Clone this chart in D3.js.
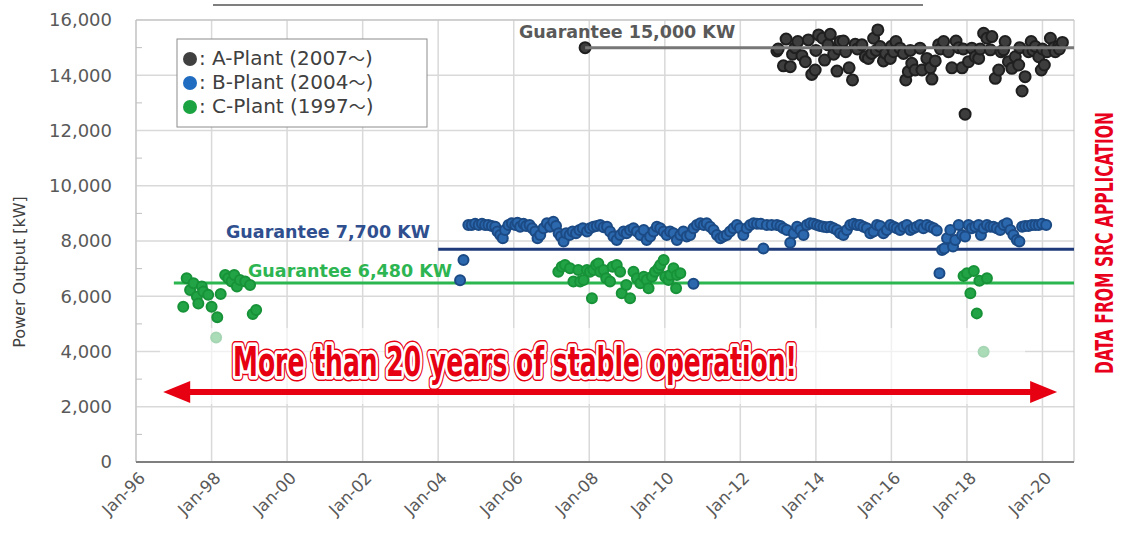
<!DOCTYPE html>
<html><head><meta charset="utf-8">
<script src="https://cdn.jsdelivr.net/npm/d3@7"></script>
<style>body{margin:0;background:#fff}svg{display:block}</style>
</head><body><svg id="c" width="1123" height="535"></svg>
<script>
// ---------------- DATA ----------------
const xTickLabels = ["Jan-96","Jan-98","Jan-00","Jan-02","Jan-04","Jan-06","Jan-08","Jan-10","Jan-12","Jan-14","Jan-16","Jan-18","Jan-20"];
const yTicks = [0,2000,4000,6000,8000,10000,12000,14000,16000];
const seriesNames = ["A-Plant","B-Plant","C-Plant"];
const seriesStarts = ["2007","2004","1997"];

// A-Plant (decimal year, kW)
const aDates = [2007.89,2012.97,2013.0,2013.14,2013.21,2013.32,2013.38,2013.45,2013.52,2013.63,2013.72,2013.80,2013.89,2013.98,2014.0,2014.07,2014.18,2014.23,2014.32,2014.38,2014.47,2014.56,2014.6,2014.64,2014.73,2014.79,2014.88,2014.97,2015.04,2015.1,2015.22,2015.31,2015.39,2015.48,2015.53,2015.6,2015.64,2015.70,2015.79,2015.85,2015.97,2016.0,2016.06,2016.12,2016.23,2016.32,2016.38,2016.45,2016.5,2016.54,2016.63,2016.76,2016.81,2016.94,2017.03,2017.07,2017.16,2017.25,2017.3,2017.38,2017.51,2017.60,2017.71,2017.78,2017.87,2017.9,2017.95,2018.04,2018.13,2018.22,2018.31,2018.35,2018.44,2018.53,2018.62,2018.66,2018.75,2018.84,2018.9,2018.97,2019.01,2019.10,2019.19,2019.28,2019.37,2019.4,2019.46,2019.54,2019.63,2019.70,2019.75,2019.81,2019.90,2019.97,2020.0,2020.05,2020.12,2020.21,2020.3,2020.34,2020.43,2020.45,2020.53];
const aValues = [15000,14880,14950,14340,15310,14310,14760,15000,15220,14710,14490,15280,14030,14190,14900,15460,15340,14550,15100,15480,14760,14150,14950,15220,15240,14850,14270,13830,15120,14950,15100,14670,14610,14790,15340,14900,15640,15040,14520,14790,14610,15050,14850,15220,14980,14790,13830,14130,14900,14430,14190,14980,14190,14610,14270,13860,14520,15100,14950,15220,14850,14270,15240,15000,14270,14950,12590,14490,14980,14670,14610,14950,15520,15340,14920,15400,13890,14190,14850,14920,15220,14490,14250,14670,14370,15000,13430,13950,14850,15220,14900,15040,14670,14190,14950,14370,14850,15340,15000,14850,15040,14950,15190];

// B-Plant
const bDates = [2004.58,2004.67,2004.80,2004.89,2004.98,2005.07,2005.16,2005.24,2005.33,2005.42,2005.51,2005.57,2005.64,2005.71,2005.77,2005.86,2005.95,2006.04,2006.10,2006.17,2006.26,2006.33,2006.42,2006.49,2006.57,2006.63,2006.70,2006.79,2006.88,2006.96,2007.05,2007.12,2007.19,2007.25,2007.32,2007.39,2007.48,2007.56,2007.65,2007.74,2007.83,2007.94,2008.02,2008.11,2008.20,2008.29,2008.38,2008.47,2008.55,2008.64,2008.73,2008.82,2008.91,2008.99,2009.08,2009.17,2009.26,2009.35,2009.44,2009.52,2009.61,2009.70,2009.79,2009.88,2009.97,2010.05,2010.14,2010.23,2010.32,2010.41,2010.49,2010.58,2010.67,2010.76,2010.76,2010.85,2010.94,2011.03,2011.11,2011.20,2011.29,2011.38,2011.47,2011.55,2011.64,2011.73,2011.82,2011.91,2011.99,2012.08,2012.17,2012.26,2012.35,2012.44,2012.54,2012.61,2012.70,2012.83,2012.97,2013.06,2013.14,2013.23,2013.32,2013.41,2013.50,2013.59,2013.67,2013.76,2013.85,2013.94,2014.03,2014.11,2014.20,2014.29,2014.38,2014.47,2014.56,2014.64,2014.73,2014.82,2014.91,2015.00,2015.09,2015.17,2015.26,2015.35,2015.44,2015.53,2015.62,2015.70,2015.79,2015.88,2015.97,2016.06,2016.14,2016.23,2016.32,2016.41,2016.50,2016.59,2016.67,2016.76,2016.85,2016.94,2017.03,2017.12,2017.20,2017.27,2017.34,2017.40,2017.47,2017.56,2017.63,2017.69,2017.78,2017.87,2017.95,2018.04,2018.13,2018.22,2018.31,2018.37,2018.44,2018.53,2018.62,2018.70,2018.79,2018.88,2018.97,2019.06,2019.15,2019.23,2019.32,2019.39,2019.46,2019.54,2019.63,2019.72,2019.81,2019.90,2019.99,2020.10];
const bValues = [6580,7310,8580,8580,8620,8580,8620,8580,8580,8540,8520,8340,8220,8100,8400,8580,8640,8580,8660,8520,8620,8540,8580,8460,8340,8100,8220,8460,8640,8520,8700,8540,8280,8160,7980,8280,8220,8340,8280,8400,8460,8340,8460,8520,8540,8580,8500,8520,8340,8160,8040,8220,8340,8280,8400,8460,8340,8220,8400,8040,8160,8340,8520,8460,8340,8220,8340,8280,8040,8220,8340,8160,8220,8460,6450,8580,8640,8580,8640,8520,8400,8220,8100,8160,8220,8340,8460,8580,8460,8220,8460,8580,8640,8620,8620,7730,8580,8580,8580,8540,8460,8400,7940,8280,8520,8400,8220,8580,8640,8620,8580,8540,8520,8500,8520,8460,8400,8280,8220,8400,8580,8620,8580,8580,8520,8460,8280,8340,8580,8540,8280,8400,8580,8520,8460,8400,8520,8580,8400,8460,8520,8580,8460,8580,8520,8460,8380,6830,7670,7730,8100,8400,7800,8040,8580,8220,8160,8580,8460,8520,8580,8220,8460,8580,8520,8520,8460,8400,8580,8640,8400,8220,8040,7980,8520,8540,8540,8580,8580,8580,8620,8580];

// C-Plant
const cDates = [1997.25,1997.34,1997.43,1997.52,1997.61,1997.65,1997.74,1997.78,1997.91,1998.00,1998.12,1998.15,1998.24,1998.36,1998.44,1998.53,1998.60,1998.67,1998.75,1998.89,1999.02,1999.09,1999.18,2007.18,2007.27,2007.36,2007.49,2007.58,2007.71,2007.76,2007.85,2007.94,2008.02,2008.07,2008.11,2008.18,2008.24,2008.29,2008.38,2008.45,2008.55,2008.62,2008.73,2008.82,2008.86,2008.98,2009.08,2009.17,2009.26,2009.35,2009.44,2009.52,2009.57,2009.66,2009.74,2009.83,2009.88,2009.97,2010.01,2010.10,2010.14,2010.23,2010.30,2010.32,2010.41,2017.91,2018.00,2018.09,2018.18,2018.26,2018.33,2018.44,2018.53];
const cValues = [5620,6650,6230,6470,5990,5740,6350,6170,6050,5620,4510,5240,6080,6770,6650,6530,6770,6350,6590,6530,6410,5360,5500,6890,7070,7130,7010,6530,6950,6530,6590,6950,6890,5930,6950,7130,7190,6890,6950,6650,6530,7070,7130,6890,6110,6410,5930,6890,6650,6470,6710,6590,6290,6710,6890,7010,7130,7310,6710,6590,6770,7010,6290,6770,6830,6730,6830,6110,6910,5380,6560,3990,6650];

// Guarantee lines
const guaranteeValues = [15000, 7700, 6480];
const guaranteeStarts = [2007.89, 2004.0, 1997.0];
const guaranteeLabels = ["Guarantee 15,000 KW","Guarantee 7,700 KW","Guarantee 6,480 KW"];

// ---------------- DRAW ----------------
const svg = d3.select("#c");
const FONT = "'DejaVu Sans', Verdana, sans-serif";
const toDate = v => { const yr = Math.floor(v); return new Date(yr, 0, 1 + Math.round((v - yr) * 365)); };

const L = 136, R = 1074, T = 20, B = 462;
const x = d3.scaleTime().domain([new Date(1996,0,1), new Date(2020,10,1)]).range([L, R]);
const y = d3.scaleLinear().domain([0,16000]).range([B, T]);

// top underline (cropped title)
svg.append("line").attr("x1",213).attr("x2",923).attr("y1",5).attr("y2",5)
  .attr("stroke","#555").attr("stroke-width",1.5);

// gridlines
const xTickDates = xTickLabels.map((d,i) => new Date(1996 + 2*i, 0, 1));
svg.append("g").selectAll("line").data(xTickDates).join("line")
  .attr("x1", d => x(d)).attr("x2", d => x(d)).attr("y1", T).attr("y2", B)
  .attr("stroke", "#d9d9d9").attr("stroke-width", 1.5);
svg.append("g").selectAll("line").data(yTicks.filter(d => d > 0)).join("line")
  .attr("x1", L).attr("x2", R).attr("y1", d => y(d)).attr("y2", d => y(d))
  .attr("stroke", "#d9d9d9").attr("stroke-width", 1.5);

// frame
svg.append("line").attr("x1",L).attr("x2",R).attr("y1",T).attr("y2",T).attr("stroke","#bfbfbf");
svg.append("line").attr("x1",R).attr("x2",R).attr("y1",T).attr("y2",B).attr("stroke","#bfbfbf");
svg.append("line").attr("x1",L).attr("x2",L).attr("y1",T).attr("y2",B).attr("stroke","#bfbfbf");
// minor ticks
svg.append("g").selectAll("line").data(d3.range(1000,16000,2000)).join("line")
  .attr("x1", L).attr("x2", L+6).attr("y1", d => y(d)).attr("y2", d => y(d))
  .attr("stroke", "#bfbfbf");

// y axis labels
const yAxis = d3.axisLeft(y).tickValues(yTicks).tickSize(0).tickPadding(24).tickFormat(d3.format(","));
const gy = svg.append("g").attr("transform", `translate(${L},0)`).call(yAxis);
gy.select(".domain").remove();
gy.selectAll("text").attr("font-family", FONT).attr("font-size", 18).attr("fill", "#595959");

// x axis labels
const gx = svg.append("g");
gx.selectAll("text").data(xTickDates).join("text")
  .attr("transform", d => `translate(${x(d)+6},${B+13}) rotate(-45)`)
  .attr("text-anchor", "end").attr("dy", "0.35em")
  .attr("font-family", FONT).attr("font-size", 16.5).attr("fill", "#595959")
  .text((d,i) => xTickLabels[i]);

// bottom axis line
svg.append("line").attr("x1",L).attr("x2",R).attr("y1",B).attr("y2",B).attr("stroke","#7f7f7f").attr("stroke-width",2);

// y title
svg.append("text").attr("transform", "translate(25,272) rotate(-90)")
  .attr("text-anchor","middle").attr("font-family",FONT).attr("font-size",16).attr("fill","#404040")
  .text("Power Output [kW]");

// guarantee lines B, C (under points)
const gColors = ["#777777","#1f3a78","#2bb650"];
const gTextColors = ["#595959","#2f4f8f","#2db552"];
[1,2].forEach(i => {
  svg.append("line").attr("x1", x(toDate(guaranteeStarts[i]))).attr("x2", R)
    .attr("y1", y(guaranteeValues[i])).attr("y2", y(guaranteeValues[i]))
    .attr("stroke", gColors[i]).attr("stroke-width", 3);
});

function drawPoints(dates, values, fill, stroke, r) {
  svg.append("g").selectAll("circle").data(dates.map((d,i)=>[d,values[i]])).join("circle")
    .attr("cx", d => x(toDate(d[0]))).attr("cy", d => y(d[1])).attr("r", r)
    .attr("fill", fill).attr("stroke", stroke).attr("stroke-width", 2);
}
drawPoints(cDates, cValues, "#22a446", "#179238", 5);
drawPoints(bDates, bValues, "#2b68ae", "#1c4a84", 5);
drawPoints(aDates, aValues, "#3d3d3d", "#1f1f1f", 5.5);

// guarantee A line (over points)
svg.append("line").attr("x1", x(toDate(guaranteeStarts[0]))).attr("x2", R)
  .attr("y1", y(guaranteeValues[0])).attr("y2", y(guaranteeValues[0]))
  .attr("stroke", gColors[0]).attr("stroke-width", 3);

// guarantee labels
const gLabelPos = [[519, 38], [226, 238], [248, 277]];
guaranteeLabels.forEach((t,i) => {
  svg.append("text").attr("x", gLabelPos[i][0]).attr("y", gLabelPos[i][1])
    .attr("font-family", FONT).attr("font-size", 17.5).attr("font-weight", "bold")
    .attr("fill", gTextColors[i]).text(t);
});

// legend
svg.append("rect").attr("x",177).attr("y",39).attr("width",250).attr("height",88)
  .attr("fill","#fff").attr("stroke","#8c8c8c").attr("stroke-width",1);
const legColors = ["#404040","#1f6cc0","#1aa340"];
seriesNames.forEach((n,i) => {
  const cy = 58 + i*24;
  svg.append("circle").attr("cx",190).attr("cy",cy+1).attr("r",7).attr("fill",legColors[i]);
  const t = svg.append("text").attr("x",199).attr("y",cy).attr("dy","0.35em")
    .attr("font-family",FONT).attr("font-size",20).attr("fill","#404040");
  t.append("tspan").text(": " + n + " (" + seriesStarts[i]);
  t.append("tspan").attr("font-family","'Noto Sans CJK JP', sans-serif").attr("font-size",17).text("～");
  t.append("tspan").text(")");
});

// faded band behind the banner
svg.append("rect").attr("x",160).attr("y",328).attr("width",865).attr("height",76)
  .attr("fill","#fff").attr("opacity",0.62);

// double-headed arrow
const ay = y(2530), ax1 = x(toDate(1996.72)), ax2 = x(toDate(2020.39));
const hl = 27, hh = 11, sw = 3;
svg.append("path").attr("fill","#e60012")
  .attr("d", `M${ax1},${ay} L${ax1+hl},${ay-hh} L${ax1+hl},${ay-sw} L${ax2-hl},${ay-sw} L${ax2-hl},${ay-hh} L${ax2},${ay} L${ax2-hl},${ay+hh} L${ax2-hl},${ay+sw} L${ax1+hl},${ay+sw} L${ax1+hl},${ay+hh} Z`);

// banner text
const banner = "More than 20 years of stable operation!";
const BF = "'Liberation Sans Narrow', 'DejaVu Sans Condensed', sans-serif";
[[10,"#e60012"],[7,"#ffffff"],[0,null]].forEach(([w,c]) => {
  const t = svg.append("text").attr("x",233).attr("y",376)
    .attr("font-family",BF).attr("font-size",40).attr("font-weight","bold")
    .attr("textLength",564).attr("lengthAdjust","spacingAndGlyphs")
    .attr("stroke-linejoin","round").text(banner);
  if (w) t.attr("fill","none").attr("stroke",c).attr("stroke-width",w);
  else t.attr("fill","#e60012");
});

// right side note
svg.append("text").attr("transform","translate(1113,243) rotate(-90)")
  .attr("text-anchor","middle").attr("font-family",BF).attr("font-size",24).attr("font-weight","bold")
  .attr("fill","#e8001c").attr("textLength",262).attr("lengthAdjust","spacingAndGlyphs")
  .text("DATA FROM SRC APPLICATION");
</script></body></html>
